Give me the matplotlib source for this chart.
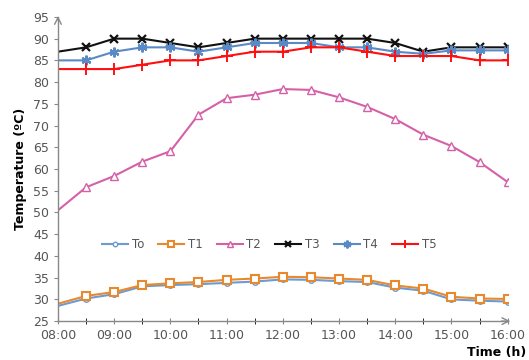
import matplotlib.pyplot as plt
from matplotlib.ticker import FixedLocator, FuncFormatter

# time of day in hours (08:00 .. 16:00, every 30 min)
hours = [8, 8.5, 9, 9.5, 10, 10.5, 11, 11.5, 12, 12.5, 13, 13.5, 14, 14.5, 15, 15.5, 16]

t_o = [28.5, 30.2, 31.2, 33.0, 33.3, 33.5, 33.8, 34.1, 34.6, 34.5, 34.2, 34.0, 32.7, 32.0, 30.0, 29.7, 29.5]
t1 = [29.0, 30.8, 31.7, 33.3, 33.7, 34.0, 34.5, 34.8, 35.2, 35.1, 34.8, 34.5, 33.2, 32.5, 30.6, 30.2, 30.1]
t2 = [50.5, 55.8, 58.4, 61.7, 64.1, 72.5, 76.3, 77.1, 78.4, 78.2, 76.5, 74.3, 71.5, 67.9, 65.3, 61.6, 57.0]
t3 = [87, 88, 90, 90, 89, 88, 89, 90, 90, 90, 90, 90, 89, 87, 88, 88, 88]
t4 = [85, 85, 87, 88, 88, 87, 88, 89, 89, 89, 88, 88, 87, 86.5, 87.3, 87.3, 87.3]
t5 = [83, 83, 83, 84, 85, 85, 86, 87, 87, 88, 88, 87, 86, 86, 86, 85, 85]

fig = plt.figure(figsize=(5.29, 3.6), dpi=100)
ax = fig.add_axes([0.1096, 0.108, 0.850, 0.845])

mk = range(1, len(hours))  # first point has no marker
styles = [
    ("To", t_o, "#6C9BD2", dict(marker="o", ms=4, mfc="white", mew=1.0)),
    ("T1", t1, "#E8892D", dict(marker="s", ms=6, mfc="white", mew=1.5)),
    ("T2", t2, "#D660A8", dict(marker="^", ms=6, mfc="white", mew=1.0)),
    ("T3", t3, "#111111", dict(marker="x", ms=6, mew=1.6)),
    ("T4", t4, "#5A8AC6", dict(marker=(6, 2, 0), ms=7, mew=1.6)),
    ("T5", t5, "#FF1010", dict(marker="+", ms=8, mew=1.4)),
]
for name, ys, col, kw in styles:
    ax.plot(hours, ys, color=col, lw=1.5, mec=col, markevery=mk, label=name, **kw)

ax.set_xlim(8, 16)
ax.set_ylim(25, 95)
ax.set_yticks(range(25, 96, 5))
ax.xaxis.set_major_locator(FixedLocator(range(8, 17)))
ax.xaxis.set_minor_locator(FixedLocator([h + 0.5 for h in range(8, 16)]))
ax.xaxis.set_major_formatter(FuncFormatter(lambda v, p: f"{int(v):02d}:00"))

for s in ("top", "right"):
    ax.spines[s].set_visible(False)
for s in ("left", "bottom"):
    ax.spines[s].set_color("#888888")
    ax.spines[s].set_linewidth(1.0)
ax.tick_params(axis="both", colors="#888888", labelcolor="#555555", labelsize=9)
ax.tick_params(axis="x", which="both", direction="inout", length=4, pad=4)
ax.tick_params(axis="y", direction="out", length=3)

# arrow heads at axis ends
arr = dict(arrowstyle="->", color="#888888", lw=1.0, mutation_scale=12)
ax.annotate("", xy=(0, 1.012), xytext=(0, 0.98), xycoords="axes fraction", arrowprops=arr, annotation_clip=False)
ax.annotate("", xy=(1.012, 0), xytext=(0.98, 0), xycoords="axes fraction", arrowprops=arr, annotation_clip=False)

ax.set_ylabel("Temperature (ºC)", fontsize=9, fontweight="bold", labelpad=4)
fig.text(0.995, 0.004, "Time (h)", ha="right", va="bottom", fontsize=9, fontweight="bold")

leg = ax.legend(loc="center", bbox_to_anchor=(0.47, 0.253), ncol=6, frameon=False,
                fontsize=8.5, handlelength=2.2, handletextpad=0.3, columnspacing=1.2,
                labelcolor="#555555")
for h in leg.legend_handles:
    h.set_markersize(h.get_markersize() * 0.8)

fig.savefig("out.png", dpi=100)
